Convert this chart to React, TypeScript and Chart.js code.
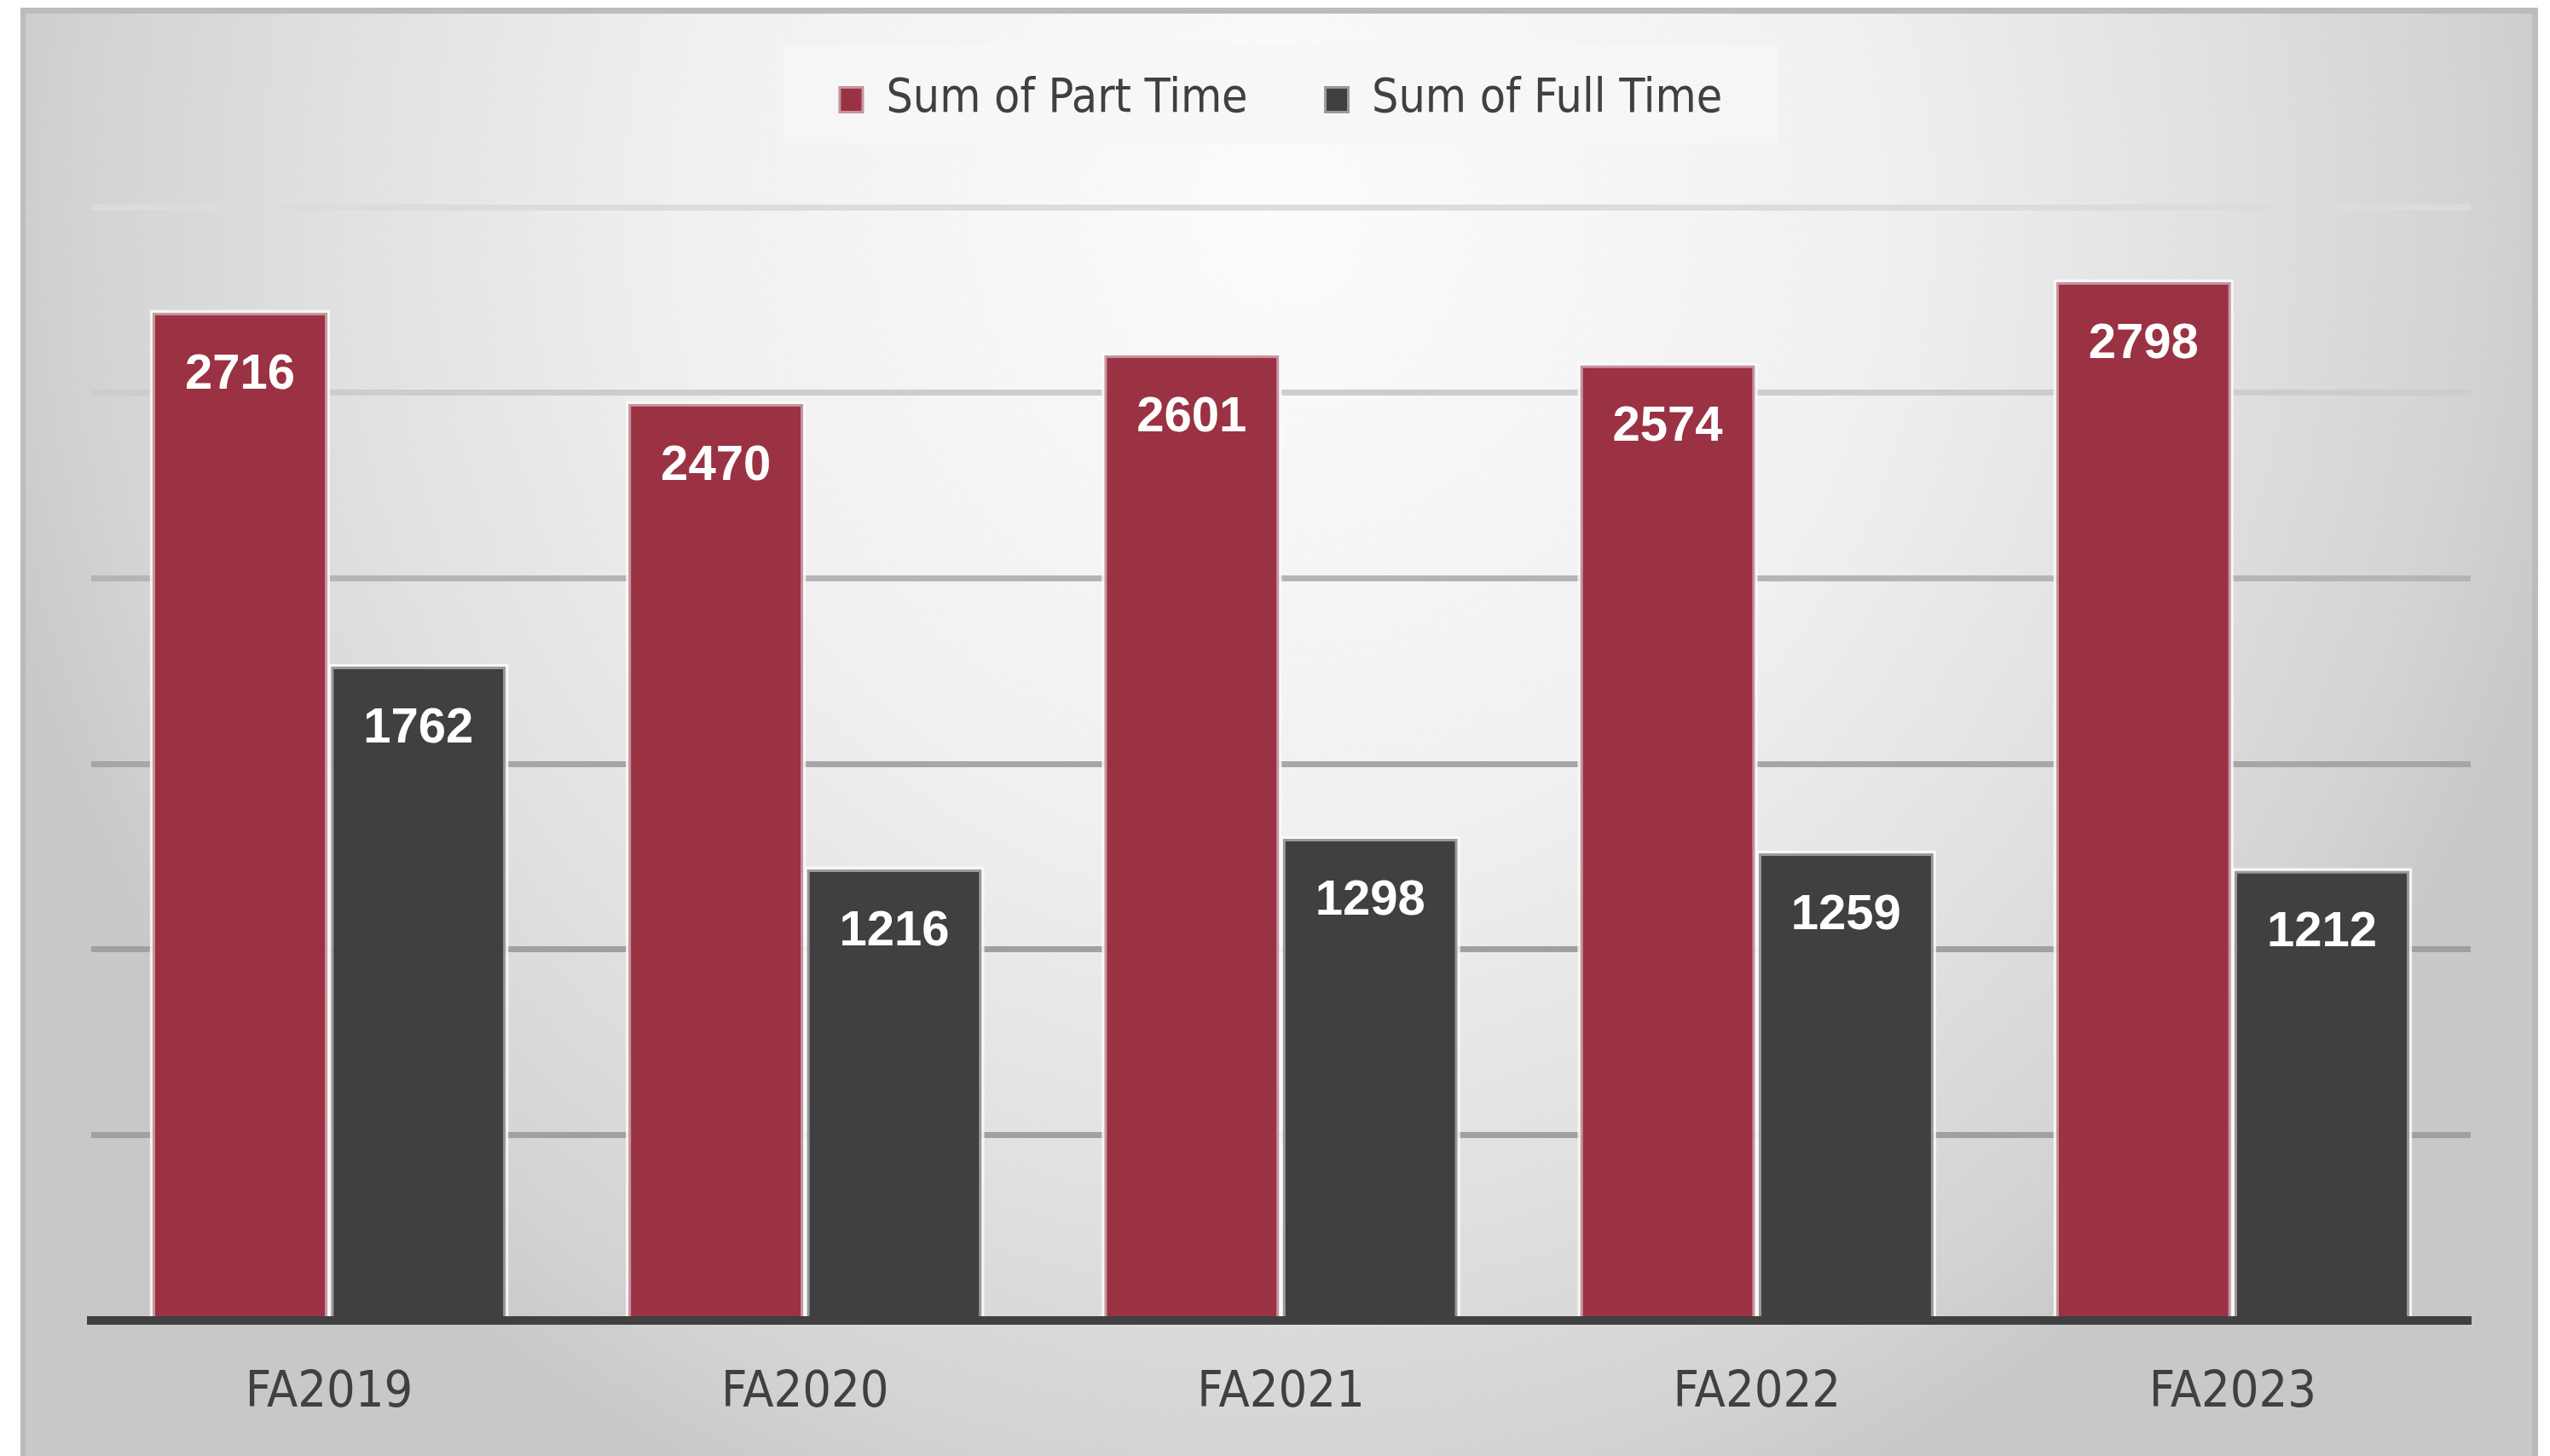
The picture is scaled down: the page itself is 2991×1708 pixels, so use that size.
import React, { useEffect, useRef } from 'react';
import { Chart, registerables } from 'chart.js';

Chart.register(...registerables);

// ---------- data ----------
const categories = ['FA2019', 'FA2020', 'FA2021', 'FA2022', 'FA2023'];
const partTime = [2716, 2470, 2601, 2574, 2798];
const fullTime = [1762, 1216, 1298, 1259, 1212];
const seriesNames = ['Sum of Part Time', 'Sum of Full Time'];
const yMax = 3000;
const yStep = 500;

// ---------- styles ----------
const W = 2991;
const H = 1708;
const NARROW = "'Liberation Sans Narrow', 'DejaVu Sans Condensed', 'Liberation Sans', sans-serif";
const BOLD = "'Liberation Sans', Arial, sans-serif";
const RED = '#9a3244';
const RED_EDGE = '#c7949e';
const DARK = '#404040';
const DARK_EDGE = '#9a9a9a';
const TEXT = '#404040';
const gridShade: Record<number, string> = {
  0: '#404040',
  500: '#a0a0a0',
  1000: '#a0a0a0',
  1500: '#a6a6a6',
  2000: '#b5b5b5',
  2500: '#cdcdcd',
  3000: '#dcdcdc',
};
// target text widths in the reference (px)
const LEGEND_TEXT_W = 424;
const AXIS_TEXT_W = 196;
const PLOT_TOP = 243;
const PLOT_BOTTOM = 1549;
const LEGEND_CENTER_Y = 111;
const AXIS_LABEL_CENTER_Y = 1629;
const TEXT_NUDGE = 6;
const LEGEND_PAD = 91;

function fitSize(text: string, target: number, family: string) {
  const c = document.createElement('canvas').getContext('2d')!;
  c.font = `100px ${family}`;
  const w = c.measureText(text).width || 1;
  return Math.round((100 * target) / w);
}

const panelPlugin = {
  id: 'panelBg',
  beforeDraw(chart: any) {
    const ctx = chart.ctx as CanvasRenderingContext2D;
    ctx.save();
    ctx.fillStyle = '#ffffff';
    ctx.fillRect(0, 0, W, H);
    const px = 24, py = 9, pw = 2977 - 24, ph = H - 9;
    ctx.save();
    ctx.beginPath();
    ctx.rect(px, py, pw, ph);
    ctx.clip();
    ctx.translate(1500, 250);
    ctx.scale(1, 1650 / 1560);
    const g = ctx.createRadialGradient(0, 0, 0, 0, 0, 1560);
    g.addColorStop(0, '#fcfcfc');
    g.addColorStop(0.45, '#f0f0f0');
    g.addColorStop(0.7, '#e1e1e1');
    g.addColorStop(0.9, '#d3d3d3');
    g.addColorStop(1, '#c8c8c8');
    ctx.fillStyle = g;
    ctx.fillRect(-4000, -4000, 8000, 8000);
    ctx.restore();
    ctx.fillStyle = '#bcbcbc';
    ctx.fillRect(px, py, pw, 7);
    ctx.fillStyle = 'rgba(160,160,160,0.35)';
    ctx.fillRect(px, py + 7, 6, ph);
    ctx.fillRect(px + pw - 7, py + 7, 7, ph);
    // legend backdrop
    ctx.fillStyle = 'rgba(246,246,246,0.92)';
    ctx.fillRect(919, 53, 1166, 115);
    ctx.restore();
  },
};

const barHaloPlugin = {
  id: 'barHalo',
  beforeDatasetsDraw(chart: any) {
    const ctx = chart.ctx as CanvasRenderingContext2D;
    ctx.save();
    ctx.fillStyle = 'rgba(250,250,250,0.85)';
    chart.data.datasets.forEach((_: any, i: number) => {
      const meta = chart.getDatasetMeta(i);
      meta.data.forEach((el: any) => {
        const { x, y, base, width } = el.getProps(['x', 'y', 'base', 'width'], true);
        ctx.fillRect(x - width / 2 - 3, y - 3, width + 6, base - y + 3);
      });
    });
    ctx.restore();
  },
};

const valueLabelPlugin = {
  id: 'valueLabels',
  afterDatasetsDraw(chart: any) {
    const ctx = chart.ctx as CanvasRenderingContext2D;
    ctx.save();
    ctx.font = `bold 58px ${BOLD}`;
    ctx.fillStyle = '#ffffff';
    ctx.textAlign = 'center';
    ctx.textBaseline = 'middle';
    chart.data.datasets.forEach((ds: any, i: number) => {
      const meta = chart.getDatasetMeta(i);
      meta.data.forEach((el: any, j: number) => {
        const { x, y } = el.getProps(['x', 'y'], true);
        ctx.fillText(String(ds.data[j]), x, y + 73);
      });
    });
    ctx.restore();
  },
};

export default function App() {
  const ref = useRef<HTMLCanvasElement | null>(null);

  useEffect(() => {
    if (!ref.current) return;
    const legendSize = fitSize(seriesNames[0], LEGEND_TEXT_W, NARROW);
    const axisSize = fitSize(categories[0], AXIS_TEXT_W, NARROW);
    const legendTop = LEGEND_CENTER_Y + TEXT_NUDGE - LEGEND_PAD - legendSize / 2;
    const legendBottom = legendTop + Math.max(legendSize, 29) + LEGEND_PAD + 10;
    const gap = PLOT_TOP - legendBottom;
    const axisPad = AXIS_LABEL_CENTER_Y + TEXT_NUDGE - PLOT_BOTTOM - 0.6 * axisSize;

    const chart = new Chart(ref.current, {
      type: 'bar',
      data: {
        labels: categories,
        datasets: [
          {
            label: seriesNames[0],
            data: partTime,
            backgroundColor: RED,
            borderColor: RED_EDGE,
            borderWidth: 3,
            xAxisID: 'x',
            yAxisID: 'y',
          },
          {
            label: seriesNames[1],
            data: fullTime,
            backgroundColor: DARK,
            borderColor: DARK_EDGE,
            borderWidth: 3,
            xAxisID: 'x',
            yAxisID: 'y',
          },
        ],
      },
      options: {
        responsive: false,
        animation: false,
        devicePixelRatio: 1,
        datasets: { bar: { categoryPercentage: 0.75, barPercentage: 0.98 } },
        layout: { padding: { left: 107, right: 93, top: legendTop, bottom: 0 } },
        plugins: {
          legend: {
            display: true,
            position: 'top',
            labels: {
              boxWidth: 27,
              boxHeight: 29,
              padding: LEGEND_PAD,
              color: TEXT,
              font: { family: NARROW, size: legendSize },
            },
          },
          tooltip: { enabled: false },
          title: { display: false },
        },
        scales: {
          x: {
            type: 'category',
            position: 'bottom',
            z: 1,
            grid: { display: false, drawTicks: false },
            border: { display: true, color: DARK, width: 10 },
            ticks: { color: TEXT, padding: axisPad, font: { family: NARROW, size: axisSize } },
            afterFit: (s: any) => { s.height = H - PLOT_BOTTOM; },
          },
          xTop: {
            type: 'category',
            position: 'top',
            display: true,
            grid: { display: false, drawTicks: false },
            border: { display: false },
            ticks: { display: false },
            afterFit: (s: any) => { s.height = gap; },
          },
          y: {
            type: 'linear',
            min: 0,
            max: yMax,
            display: true,
            border: { display: false },
            ticks: { display: false, stepSize: yStep },
            grid: {
              drawTicks: false,
              color: (c: any) => gridShade[c.tick?.value] ?? '#b0b0b0',
              lineWidth: (c: any) => (c.tick?.value === 0 ? 10 : 7),
            },
            afterFit: (s: any) => { s.width = 0; },
          },
        },
      },
      plugins: [panelPlugin, barHaloPlugin, valueLabelPlugin],
    } as any);
    return () => chart.destroy();
  }, []);

  return (
    <canvas
      ref={ref}
      width={W}
      height={H}
      style={{ position: 'fixed', left: 0, top: 0, width: W, height: H }}
    />
  );
}
